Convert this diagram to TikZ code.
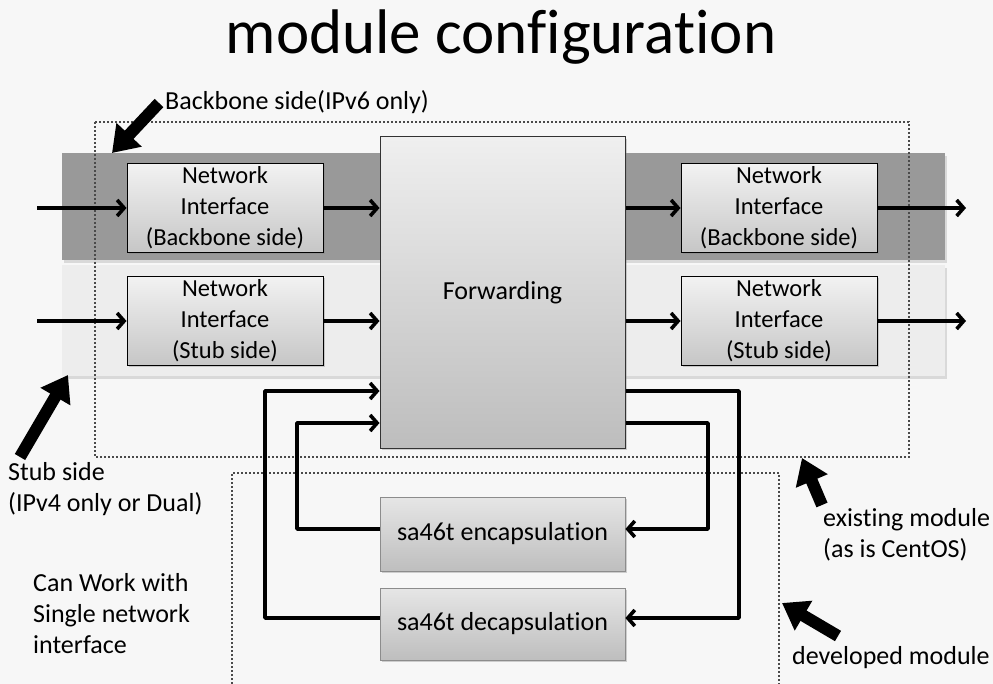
\documentclass[tikz,border=0pt]{standalone}
\usepackage{fontspec}
\setmainfont{Carlito}[Ligatures={NoCommon}]
\usetikzlibrary{arrows.meta,calc,shadows}

\definecolor{pagebg}{HTML}{F7F7F7}
\definecolor{banddark}{HTML}{999999}
\definecolor{bandlight}{HTML}{EDEDED}
\definecolor{boxtop}{HTML}{F2F2F2}
\definecolor{boxbot}{HTML}{C6C6C6}
\definecolor{fwdtop}{HTML}{EFEFEF}
\definecolor{fwdbot}{HTML}{BDBDBD}
\definecolor{modtop}{HTML}{E6E6E6}
\definecolor{modbot}{HTML}{BEBEBE}
\definecolor{dotgray}{HTML}{4A4A4A}

\begin{document}
\begin{tikzpicture}[x=1pt,y=-1pt,
  txt/.style={font=\fontsize{26}{31}\selectfont},
  nitxt/.style={font=\fontsize{24.5}{31}\selectfont},
  band/.style={inner sep=0pt, minimum width=883pt,
    drop shadow={shadow xshift=2pt,shadow yshift=-3pt,opacity=0.25}},
  nibox/.style={nitxt, draw=black, line width=1pt, top color=boxtop, bottom color=boxbot,
    minimum width=196pt, minimum height=89pt, align=center, inner sep=0pt,
    drop shadow={shadow xshift=2pt,shadow yshift=-2pt,opacity=0.35}},
  fwdbox/.style={txt, draw=black!80, line width=1pt, top color=fwdtop, bottom color=fwdbot,
    minimum width=245pt, minimum height=311pt, inner sep=0pt,
    drop shadow={shadow xshift=2pt,shadow yshift=-2pt,opacity=0.35}},
  modbox/.style={txt, draw=black!45, line width=0.8pt, top color=modtop, bottom color=modbot,
    minimum width=245pt, inner sep=0pt,
    drop shadow={shadow xshift=2pt,shadow yshift=-2pt,opacity=0.35}},
  frame/.style={draw=dotgray, line width=2.4pt, dash pattern=on 2pt off 2pt},
  flow/.style={draw=black, line width=3.6pt, line join=round,
    -{Straight Barb[length=7pt,width=16pt]}},
  fatarrow/.style={line width=12pt, -{Triangle[length=25pt,width=33pt]}},
  label/.style={txt, anchor=base west, align=left, inner sep=0pt}]

% page
\path[use as bounding box, fill=pagebg] (0,0) rectangle (993,684);

% title
\node[font=\fontsize{63}{63}\selectfont, anchor=base, inner sep=0pt] (title) at (501,54) {module configuration};

% side bands
\node[band, fill=banddark, minimum height=107pt] (bbband) at (503.5,206.5) {};
\node[band, fill=bandlight, minimum height=111pt] (stband) at (503.5,320.5) {};

% module frames
\draw[frame] (95,122) rectangle (909,457);
\draw[frame] (232,684) -- (232,473) -- (779,473) -- (779,684);

% boxes
\node[fwdbox] (fwd) at (502.5,292.5) {Forwarding};
\node[nibox] (niBL) at (225,208) {Network\\Interface\\(Backbone side)};
\node[nibox] (niBR) at (779,208) {Network\\Interface\\(Backbone side)};
\node[nibox] (niSL) at (225,321) {Network\\Interface\\(Stub side)};
\node[nibox] (niSR) at (779,321) {Network\\Interface\\(Stub side)};
\node[modbox, minimum height=74pt] (enc) at (502.5,534) {sa46t encapsulation};
\node[modbox, minimum height=72pt] (dec) at (502.5,624) {sa46t decapsulation};

% free ends of the outer connectors
\coordinate (inB) at (37,208);
\coordinate (inS) at (37,321);
\coordinate (outB) at (966,208);
\coordinate (outS) at (966,321);

% traffic through the interfaces
\draw[flow] (inB) -- (niBL.west);
\draw[flow] (niBL.east) -- (fwd.west |- niBL.east);
\draw[flow] (fwd.east |- niBR.west) -- (niBR.west);
\draw[flow] (niBR.east) -- (outB);
\draw[flow] (inS) -- (niSL.west);
\draw[flow] (niSL.east) -- (fwd.west |- niSL.east);
\draw[flow] (fwd.east |- niSR.west) -- (niSR.west);
\draw[flow] (niSR.east) -- (outS);

% loops through the sa46t modules
\draw[flow] (fwd.east |- 0,391) -- (739,391) |- ([yshift=6pt]dec.east);
\draw[flow] (fwd.east |- 0,423) -- (708,423) |- ([yshift=5pt]enc.east);
\draw[flow] ([yshift=6pt]dec.west) -- (265,618) |- (fwd.west |- 0,391);
\draw[flow] ([yshift=5pt]enc.west) -- (297,529) |- (fwd.west |- 0,423);

% annotations (base anchor sits on the last line)
\node[label] (lbb) at (165,110) {Backbone side(IPv6 only)};
\node[label] (lstub) at (8,511) {Stub side\\(IPv4 only or Dual)};
\node[label] (lcan) at (33,653) {Can Work with\\Single network\\interface};
\node[label] (lexist) at (823,557) {existing module\\(as is CentOS)};
\node[label] (ldev) at (792,664) {developed module};

% pointer arrows
\coordinate (pBB) at (112,153);
\coordinate (pST) at (68,375);
\coordinate (pEX) at (802,458);
\coordinate (pDV) at (782,603);
\draw[fatarrow] (159,103) -- (pBB);
\draw[fatarrow] (20,457) -- (pST);
\draw[fatarrow] (822,505) -- (pEX);
\draw[fatarrow] (838,636) -- (pDV);
\end{tikzpicture}
\end{document}
